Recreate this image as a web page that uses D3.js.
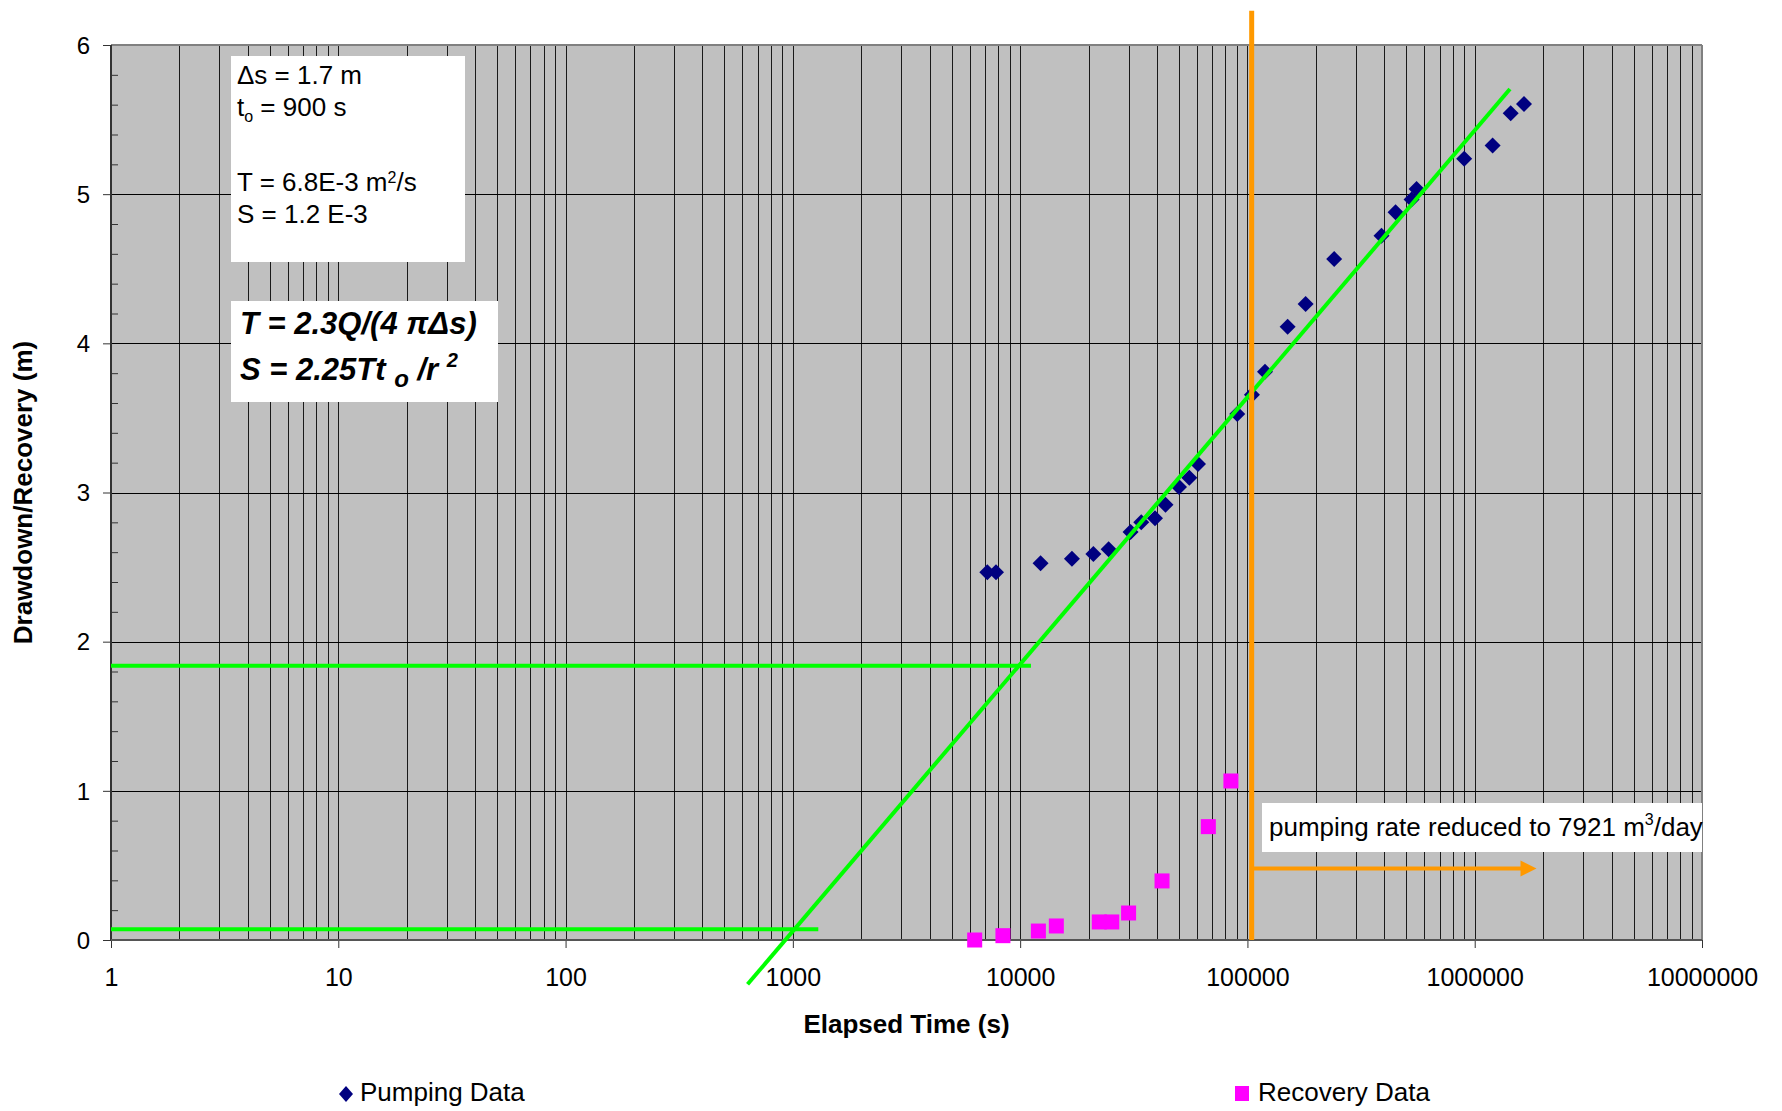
<!DOCTYPE html>
<html><head><meta charset="utf-8">
<script src="https://cdn.jsdelivr.net/npm/d3@7"></script>
<style>
body{margin:0;background:#fff;}
svg{display:block;font-family:"Liberation Sans",Arial,sans-serif;}
</style>
</head><body>
<svg id="c" width="1782" height="1111"></svg>
<script>
// ---- data ----
const pumpingTime = [7170, 7830, 12300, 16900, 21000, 24500, 30600, 34100, 39200, 43600, 50000, 55500, 60600, 90200, 104700, 119500, 150300, 180300, 240800, 389000, 448500, 527500, 554800, 899000, 1199000, 1440000, 1648000];
const pumpingDrawdown = [2.465, 2.465, 2.525, 2.556, 2.588, 2.619, 2.735, 2.80, 2.827, 2.918, 3.037, 3.099, 3.191, 3.526, 3.656, 3.81, 4.112, 4.264, 4.565, 4.721, 4.878, 4.965, 5.034, 5.238, 5.327, 5.542, 5.604];
const recoveryTime = [6310, 8400, 12030, 14430, 22300, 25300, 30000, 42100, 67300, 84600];
const recoveryValue = [0.0, 0.029, 0.060, 0.094, 0.121, 0.121, 0.181, 0.396, 0.760, 1.066];
const fitLineTime = [632, 1429000];
const fitLineValue = [-0.297, 5.705];
const upperGuideTime = [1, 11160];
const upperGuideValue = [1.839, 1.839];
const lowerGuideTime = [1, 1294];
const lowerGuideValue = [0.072, 0.072];
const rateChangeTime = [104400, 104400];
const rateChangeValue = [0, 6.23];
const arrowTime = [104400, 1870000];
const arrowValue = [0.48, 0.48];
const xTickValues = [1, 10, 100, 1000, 10000, 100000, 1000000, 10000000];
const xTickLabels = ["1", "10", "100", "1000", "10000", "100000", "1000000", "10000000"];
const yTickValues = [0, 1, 2, 3, 4, 5, 6];
const yTickLabels = ["0", "1", "2", "3", "4", "5", "6"];
const yMinorTicks = [0.2,0.4,0.6,0.8,1.2,1.4,1.6,1.8,2.2,2.4,2.6,2.8,3.2,3.4,3.6,3.8,4.2,4.4,4.6,4.8,5.2,5.4,5.6,5.8];

// ---- layout ----
const P = {left:111, right:1702, top:45, bottom:940};
const svg = d3.select('#c');
const x = d3.scaleLog().domain([1, 1e7]).range([P.left, P.right]);
const y = d3.scaleLinear().domain([0, 6]).range([P.bottom, P.top]);

// plot background
svg.append('rect').attr('x', P.left).attr('y', P.top)
  .attr('width', P.right - P.left).attr('height', P.bottom - P.top).attr('fill', '#C0C0C0');

// vertical grid (every k*10^n)
const gridX = [];
for (let n = 0; n < 7; n++) for (let k = 1; k < 10; k++) gridX.push(k * Math.pow(10, n));
svg.append('g').selectAll('line').data(gridX).join('line')
  .attr('x1', d => Math.round(x(d)) + 0.5).attr('x2', d => Math.round(x(d)) + 0.5)
  .attr('y1', P.top).attr('y2', P.bottom)
  .attr('stroke', '#1a1a1a').attr('stroke-width', 1);
// horizontal grid
svg.append('g').selectAll('line').data(yTickValues.slice(1, -1)).join('line')
  .attr('x1', P.left).attr('x2', P.right)
  .attr('y1', d => Math.round(y(d)) + 0.5).attr('y2', d => Math.round(y(d)) + 0.5)
  .attr('stroke', '#000').attr('stroke-width', 1);

// borders
svg.append('line').attr('x1', P.left).attr('x2', P.right).attr('y1', P.top).attr('y2', P.top)
  .attr('stroke', '#808080').attr('stroke-width', 2);
svg.append('line').attr('x1', P.right).attr('x2', P.right).attr('y1', P.top).attr('y2', P.bottom)
  .attr('stroke', '#808080').attr('stroke-width', 2);

// text boxes (under data)
const box1 = svg.append('g');
box1.append('rect').attr('x', 231).attr('y', 56).attr('width', 234).attr('height', 206).attr('fill', '#fff');
box1.append('text').attr('font-size', 26).attr('x', 237).attr('y', 84).text('Δs = 1.7 m');
const t2 = box1.append('text').attr('font-size', 26).attr('x', 237).attr('y', 116);
t2.append('tspan').text('t');
t2.append('tspan').attr('font-size', 16).attr('dy', 6).text('o');
t2.append('tspan').attr('dy', -6).text(' = 900 s');
const t3 = box1.append('text').attr('font-size', 26).attr('x', 237).attr('y', 191);
t3.append('tspan').text('T = 6.8E-3 m');
t3.append('tspan').attr('font-size', 16).attr('dy', -8).text('2');
t3.append('tspan').attr('dy', 8).text('/s');
box1.append('text').attr('font-size', 26).attr('x', 237).attr('y', 223).text('S = 1.2 E-3');

const box2 = svg.append('g').attr('font-weight', 'bold').attr('font-style', 'italic');
box2.append('rect').attr('x', 231).attr('y', 301).attr('width', 267).attr('height', 101).attr('fill', '#fff');
box2.append('text').attr('font-size', 31).attr('x', 240).attr('y', 334).text('T = 2.3Q/(4 πΔs)');
const f2 = box2.append('text').attr('font-size', 31).attr('x', 240).attr('y', 380);
f2.append('tspan').text('S = 2.25Tt ');
f2.append('tspan').attr('font-size', 24).attr('dy', 7).text('o');
f2.append('tspan').attr('dy', -7).text(' /r ');
f2.append('tspan').attr('font-size', 20).attr('dy', -13).text('2');

// annotation box
const ann = svg.append('g');
ann.append('rect').attr('x', 1262).attr('y', 803).attr('width', P.right - 1262).attr('height', 49).attr('fill', '#fff');
const at = ann.append('text').attr('font-size', 26).attr('x', 1269).attr('y', 836);
at.append('tspan').text('pumping rate reduced to 7921 m');
at.append('tspan').attr('font-size', 16).attr('dy', -11).text('3');
at.append('tspan').attr('dy', 11).text('/day');

// axes
const xAxis = d3.axisBottom(x).tickValues(xTickValues)
  .tickFormat((d, i) => xTickLabels[i]).tickSize(8).tickPadding(20);
const gx = svg.append('g').attr('transform', `translate(0,${P.bottom})`).call(xAxis);
gx.select('.domain').remove();
gx.selectAll('line').attr('stroke', '#333');
gx.selectAll('text').attr('font-size', 25).attr('fill', '#000').attr('font-family', '"Liberation Sans",Arial,sans-serif');

const yAxis = d3.axisLeft(y).tickValues(yTickValues)
  .tickFormat((d, i) => yTickLabels[i]).tickSize(8).tickPadding(13);
const gy = svg.append('g').attr('transform', `translate(${P.left},0)`).call(yAxis);
gy.select('.domain').remove();
gy.selectAll('line').attr('stroke', '#333');
gy.selectAll('text').attr('font-size', 24).attr('fill', '#000').attr('font-family', '"Liberation Sans",Arial,sans-serif').attr('dy', '0.34em');

const yMinor = d3.axisLeft(y).tickValues(yMinorTicks).tickFormat('').tickSize(-7);
const gym = svg.append('g').attr('transform', `translate(${P.left},0)`).call(yMinor);
gym.select('.domain').remove();
gym.selectAll('line').attr('stroke', '#333');

// axis lines
svg.append('line').attr('x1', P.left).attr('x2', P.left).attr('y1', P.top).attr('y2', P.bottom)
  .attr('stroke', '#333').attr('stroke-width', 2);
svg.append('line').attr('x1', P.left).attr('x2', P.right).attr('y1', P.bottom).attr('y2', P.bottom)
  .attr('stroke', '#555').attr('stroke-width', 2);

// data points
const diamond = 'M0,-8L8,0L0,8L-8,0Z';
svg.append('g').selectAll('path').data(pumpingTime).join('path')
  .attr('d', diamond)
  .attr('transform', (d, i) => `translate(${x(d)},${y(pumpingDrawdown[i])})`)
  .attr('fill', '#000080');
svg.append('g').selectAll('rect').data(recoveryTime).join('rect')
  .attr('x', d => x(d) - 7.5)
  .attr('y', (d, i) => y(recoveryValue[i]) - 7.5)
  .attr('width', 15).attr('height', 15)
  .attr('fill', '#FF00FF');

// green construction lines
const line = d3.line().x(d => x(d[0])).y(d => y(d[1]));
const greenLines = [
  d3.zip(fitLineTime, fitLineValue),
  d3.zip(upperGuideTime, upperGuideValue),
  d3.zip(lowerGuideTime, lowerGuideValue)
];
svg.append('g').selectAll('path').data(greenLines).join('path')
  .attr('d', line).attr('fill', 'none').attr('stroke', '#00FF00').attr('stroke-width', 4);

// orange rate-change line + arrow
svg.append('path').attr('d', line(d3.zip(rateChangeTime, rateChangeValue)))
  .attr('fill', 'none').attr('stroke', '#FF9900').attr('stroke-width', 5);
const ax0 = x(arrowTime[0]), ax1 = x(arrowTime[1]), ay = y(arrowValue[0]);
svg.append('line').attr('x1', ax0).attr('x2', ax1 - 12).attr('y1', ay).attr('y2', ay)
  .attr('stroke', '#FF9900').attr('stroke-width', 4);
svg.append('path').attr('d', `M${ax1},${ay}L${ax1 - 16},${ay - 8}L${ax1 - 16},${ay + 8}Z`).attr('fill', '#FF9900');

// axis titles
svg.append('text').attr('x', (P.left + P.right) / 2).attr('y', 1033)
  .attr('text-anchor', 'middle').attr('font-size', 26).attr('font-weight', 'bold')
  .text('Elapsed Time (s)');
svg.append('text').attr('transform', `translate(32,${(P.top + P.bottom) / 2}) rotate(-90)`)
  .attr('text-anchor', 'middle').attr('font-size', 26).attr('font-weight', 'bold')
  .text('Drawdown/Recovery (m)');

// legend
const lg = svg.append('g');
lg.append('path').attr('d', 'M0,-8L7,0L0,8L-7,0Z').attr('transform', 'translate(346,1094)').attr('fill', '#000080');
lg.append('text').attr('x', 360).attr('y', 1101).attr('font-size', 26).text('Pumping Data');
lg.append('rect').attr('x', 1235).attr('y', 1086).attr('width', 14).attr('height', 15).attr('fill', '#FF00FF');
lg.append('text').attr('x', 1258).attr('y', 1101).attr('font-size', 26).text('Recovery Data');
</script>
</body></html>
